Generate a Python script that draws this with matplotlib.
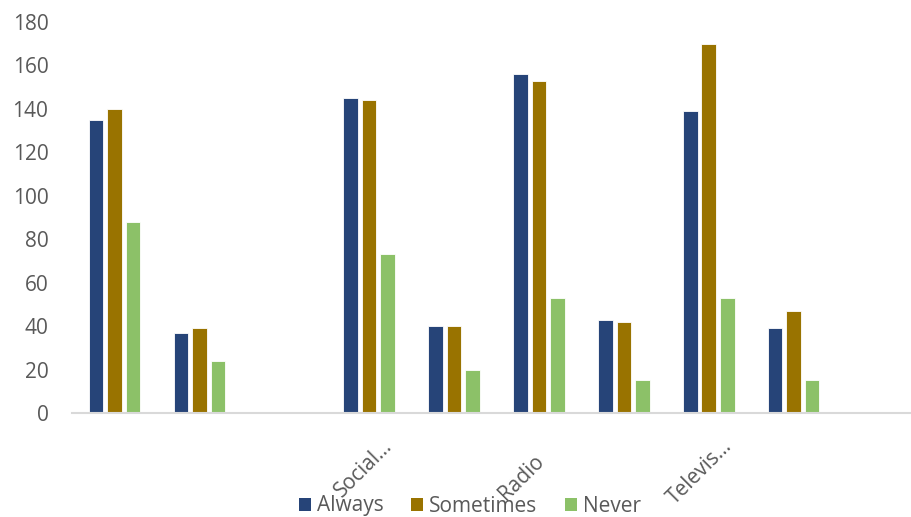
import matplotlib
matplotlib.use("Agg")
import matplotlib.pyplot as plt
import matplotlib.transforms as mtransforms
from matplotlib.patches import Patch
import numpy as np

# Source categories (Excel-style chart shows only some names)
categories = ["", "", "", "Social...", "", "Radio", "", "Televis...", "", ""]
always = [135, 37, 0, 145, 40, 156, 43, 139, 39, 0]
sometimes = [140, 39, 0, 144, 40, 153, 42, 170, 47, 0]
never = [88, 24, 0, 73, 20, 53, 15, 53, 15, 0]
series_names = ["Always", "Sometimes", "Never"]
yticks = [0, 20, 40, 60, 80, 100, 120, 140, 160, 180]

colors = ["#264478", "#997300", "#8CC168"]
text_gray = "#595959"

plt.rcParams["font.family"] = ["Open Sans", "DejaVu Sans"]

W, H = 911, 517
fig = plt.figure(figsize=(W / 100, H / 100), dpi=100)
ax = fig.add_axes([72 / W, (H - 413) / H, 849 / W, 391 / H])

x = np.arange(len(categories))
step = 0.218
width = 0.171
for i, (vals, name, col) in enumerate(zip([always, sometimes, never], series_names, colors)):
    mask = np.array(vals) > 0
    ax.bar(x[mask] + (i - 1) * step, np.array(vals)[mask], width=width,
           color=col, edgecolor="white", linewidth=0.6, label=name, zorder=3)

ax.set_xlim(-0.5, len(categories) - 0.5)
ax.set_ylim(0, 180)
ax.set_yticks(yticks)
ax.tick_params(axis="y", length=0, pad=17, labelsize=15, labelcolor=text_gray)
ax.tick_params(axis="x", length=0, pad=0, labelsize=15, labelcolor=text_gray)

ax.set_xticks(x)
ax.set_xticklabels(categories, rotation=45, ha="right", va="center",
                   rotation_mode="anchor")
for lab in ax.get_xticklabels():
    dx, dy = 2, -45
    if lab.get_text().endswith("..."):
        dx, dy = 20, -30
    off = mtransforms.ScaledTranslation(dx / 100, dy / 100, fig.dpi_scale_trans)
    lab.set_transform(lab.get_transform() + off)

for s in ["top", "right", "left"]:
    ax.spines[s].set_visible(False)
ax.spines["bottom"].set_color("#D9D9D9")
ax.spines["bottom"].set_linewidth(1.5)
ax.spines["bottom"].set_zorder(4)

proxies = [Patch(facecolor=c, edgecolor="none") for c in colors]
leg = fig.legend(handles=proxies, labels=series_names, loc="center",
                 bbox_to_anchor=(470 / W, (H - 506) / H), ncol=3, frameon=False,
                 fontsize=15, handlelength=0.58, handleheight=0.58,
                 handletextpad=0.3, columnspacing=1.3, borderpad=0)
for t in leg.get_texts():
    t.set_color(text_gray)

fig.savefig("out.png", dpi=100)
